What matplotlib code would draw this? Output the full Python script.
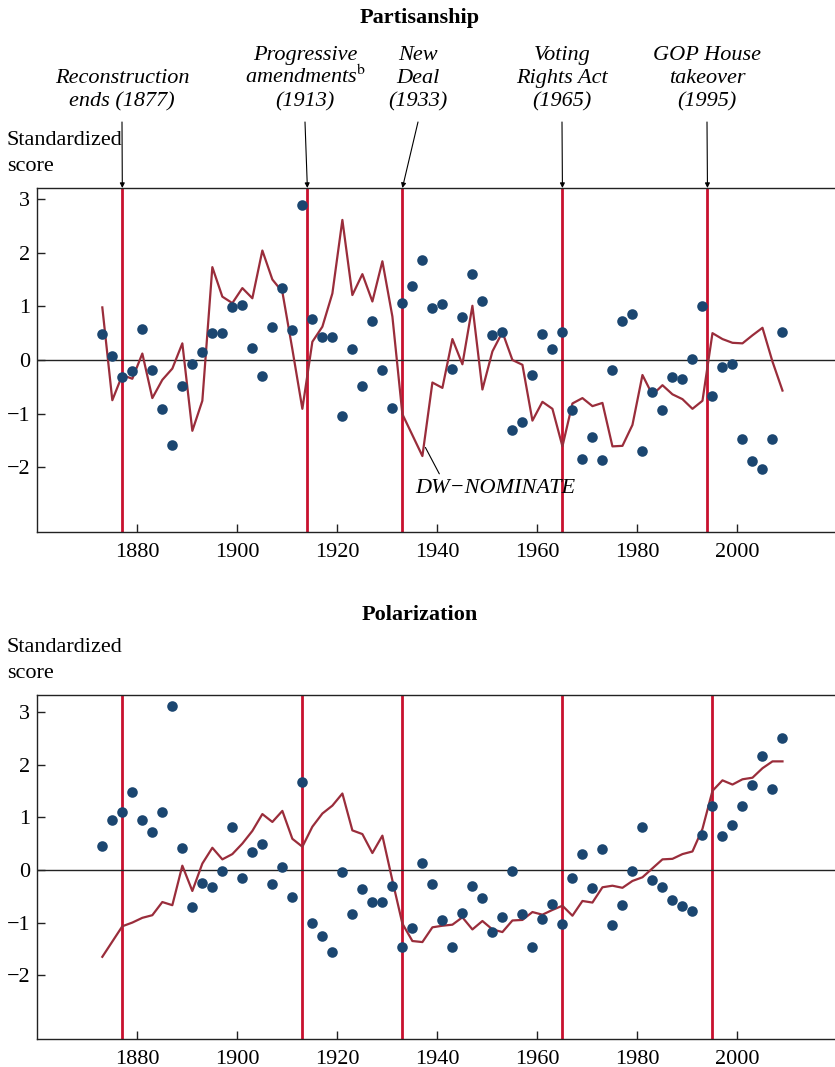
import numpy as np
import matplotlib
matplotlib.use('Agg')
import matplotlib.pyplot as plt

plt.rcParams['font.family'] = ['Liberation Serif', 'DejaVu Serif']
plt.rcParams['mathtext.fontset'] = 'stix'

W, H = 835, 1067

# congresses, every two years
years = np.arange(1873, 2010, 2)

partisan_dots = [0.48, 0.07, -0.31, -0.20, 0.57, -0.18, -0.91, -1.58, -0.49, -0.07,
                 0.15, 0.50, 0.50, 0.98, 1.03, 0.22, -0.30, 0.62, 1.34, 0.55,
                 2.89, 0.76, 0.43, 0.43, -1.05, 0.20, -0.48, 0.73, -0.18, -0.89,
                 1.07, 1.37, 1.86, 0.97, 1.04, -0.16, 0.81, 1.60, 1.10, 0.46,
                 0.53, -1.30, -1.16, -0.28, 0.48, 0.20, 0.52, -0.93, -1.84, -1.43,
                 -1.86, -0.18, 0.73, 0.86, -1.70, -0.60, -0.94, -0.31, -0.35, 0.02,
                 1.00, -0.68, -0.14, -0.07, -1.48, -1.88, -2.04, -1.48, 0.52]
partisan_dw = [0.98, -0.75, -0.28, -0.35, 0.12, -0.71, -0.37, -0.16, 0.31, -1.32,
               -0.76, 1.73, 1.18, 1.06, 1.34, 1.15, 2.04, 1.50, 1.27, 0.20,
               -0.91, 0.34, 0.62, 1.24, 2.61, 1.21, 1.60, 1.09, 1.84, 0.81,
               -1.01, -1.40, -1.79, -0.42, -0.52, 0.39, -0.08, 1.01, -0.55, 0.16,
               0.52, 0.00, -0.09, -1.13, -0.78, -0.91, -1.61, -0.81, -0.71, -0.86,
               -0.80, -1.61, -1.60, -1.21, -0.28, -0.65, -0.47, -0.64, -0.73, -0.91,
               -0.76, 0.50, 0.39, 0.32, 0.31, 0.46, 0.60, -0.03, -0.57]

polar_dots = [0.45, 0.94, 1.09, 1.48, 0.94, 0.72, 1.09, 3.11, 0.41, -0.70,
              -0.24, -0.32, -0.02, 0.81, -0.15, 0.34, 0.50, -0.26, 0.06, -0.51,
              1.66, -1.00, -1.26, -1.56, -0.04, -0.83, -0.37, -0.61, -0.61, -0.30,
              -1.47, -1.11, 0.14, -0.27, -0.96, -1.46, -0.82, -0.30, -0.53, -1.18,
              -0.89, -0.03, -0.84, -1.46, -0.94, -0.65, -1.03, -0.16, 0.30, -0.35,
              0.39, -1.04, -0.66, -0.02, 0.82, -0.20, -0.33, -0.57, -0.68, -0.78,
              0.67, 1.21, 0.65, 0.85, 1.22, 1.61, 2.17, 1.54, 2.51]
polar_dw = [-1.65, -1.36, -1.07, -1.00, -0.91, -0.86, -0.61, -0.67, 0.08, -0.40,
            0.12, 0.42, 0.20, 0.30, 0.50, 0.74, 1.06, 0.91, 1.12, 0.59,
            0.44, 0.82, 1.07, 1.22, 1.45, 0.75, 0.68, 0.32, 0.65, -0.20,
            -1.02, -1.35, -1.37, -1.09, -1.06, -1.04, -0.90, -1.13, -0.97, -1.13,
            -1.18, -0.96, -0.95, -0.80, -0.85, -0.76, -0.68, -0.87, -0.59, -0.62,
            -0.33, -0.30, -0.34, -0.21, -0.14, 0.03, 0.20, 0.21, 0.30, 0.35,
            0.78, 1.50, 1.70, 1.62, 1.72, 1.75, 1.93, 2.06, 2.06]

events_top = [1877, 1914, 1933, 1965, 1994]
events_bottom = [1877, 1913, 1933, 1965, 1995]

event_labels = [['Reconstruction', 'ends (1877)'],
                ['Progressive', 'amendments$^{\\mathrm{b}}$', '(1913)'],
                ['New', 'Deal', '(1933)'],
                ['Voting', 'Rights Act', '(1965)'],
                ['GOP House', 'takeover', '(1995)']]
label_x = [122, 305, 418, 562, 707]   # pixel centres of the label blocks

x_ticks = [1880, 1900, 1920, 1940, 1960, 1980, 2000]
y_ticks = [-2, -1, 0, 1, 2, 3]

dot_color = '#1b4670'
line_color = '#9a2d3b'
event_color = '#c8102e'
FS = 16


def px(x, y):
    return x / W, 1 - y / H


def panel(ax, dots, dw, events, ylim):
    ax.set_xlim(1860, 2019.5)
    ax.set_ylim(*ylim)
    for yr in events:
        ax.axvline(yr, color=event_color, lw=2, zorder=1)
    ax.axhline(0, color='#222222', lw=1, zorder=1)
    ax.plot(years, dw, color=line_color, lw=1.6, zorder=2)
    ax.scatter(years, dots, s=58, color=dot_color, zorder=3, linewidths=0)
    ax.set_xticks(x_ticks)
    ax.set_yticks(y_ticks)
    ax.tick_params(direction='in', length=6, width=1, labelsize=FS, color='#222222')
    ax.tick_params(axis='x', pad=8)
    ax.tick_params(axis='y', pad=5)
    ax.spines['right'].set_visible(False)
    for s in ['left', 'top', 'bottom']:
        ax.spines[s].set_linewidth(1)
        ax.spines[s].set_color('#222222')


fig = plt.figure(figsize=(W / 100, H / 100), dpi=100)
ax1 = fig.add_axes([37.3 / W, 1 - 531.7 / H, 1 - 37.3 / W, 343.7 / H])
ax2 = fig.add_axes([37.3 / W, 1 - 1039 / H, 1 - 37.3 / W, 344 / H])

panel(ax1, partisan_dots, partisan_dw, events_top, (-3.2, 3.205))
panel(ax2, polar_dots, polar_dw, events_bottom, (-3.21, 3.32))

# titles
fig.text(*px(420, 23), 'Partisanship', ha='center', va='baseline', fontsize=FS, fontweight='bold')
fig.text(*px(420, 620), 'Polarization', ha='center', va='baseline', fontsize=FS, fontweight='bold')

# axis captions
for y0 in [145, 652]:
    fig.text(*px(7, y0), 'Standardized', ha='left', va='baseline', fontsize=FS)
    fig.text(*px(7, y0 + 26), 'score', ha='left', va='baseline', fontsize=FS)

# event labels and arrows
for lines, cx, yr in zip(event_labels, label_x, events_top):
    base = 106 - 23 * (len(lines) - 1)
    for i, t in enumerate(lines):
        fig.text(*px(cx, base + 23 * i), t, ha='center', va='baseline',
                 fontsize=FS, fontstyle='italic')
    ax1.annotate('', xy=(yr, 3.205), xycoords='data',
                 xytext=px(cx, 122), textcoords='figure fraction',
                 arrowprops=dict(arrowstyle='-|>', color='black', lw=0.8,
                                 mutation_scale=7, shrinkA=0, shrinkB=0))

ax1.annotate('DW\u2212NOMINATE', xy=(1937.6, -1.63), xytext=(1951.5, -2.48),
             ha='center', va='baseline', fontsize=FS, fontstyle='italic',
             arrowprops=dict(arrowstyle='-', color='black', lw=0.8,
                             relpos=(0.17, 1.0), shrinkA=2, shrinkB=0))

fig.savefig('out.png', dpi=100)
